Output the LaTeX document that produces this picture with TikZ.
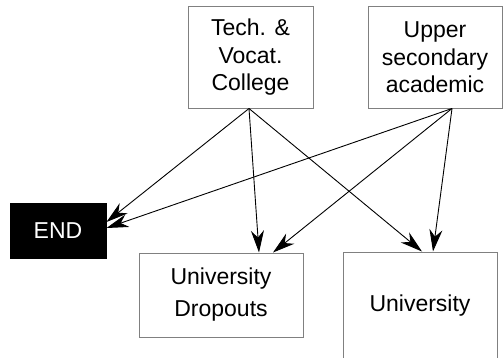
\documentclass[tikz,border=0pt]{standalone}
\usepackage{fontspec}
\setmainfont{Liberation Sans}
\usetikzlibrary{arrows.meta}
\begin{document}
\begin{tikzpicture}[x=1pt,y=1pt,
  box/.style={draw=black!50, line width=1pt, inner sep=0pt, align=center,
    font=\fontsize{23}{27.5}\selectfont},
  flow/.style={draw=black, line width=0.9pt,
    -{Stealth[length=22pt,width=13pt,inset=7pt]}}]
\useasboundingbox (0,0) rectangle (503,357);
\clip (0,0) rectangle (503,357);

% source schools
\node[box, minimum width=125pt, minimum height=101pt] (tech) at (250.5,299.5)
  {Tech. \&\\Vocat.\\College};
\node[box, minimum width=134pt, minimum height=101pt] (upper) at (435,299.5)
  {Upper\\secondary\\academic};

% destinations
\node[box, draw=black, fill=black, text=white, minimum width=96pt, minimum height=55pt]
  (stop) at (58,126.5) {END};
\node[box, font=\fontsize{23}{32}\selectfont, minimum width=164pt, minimum height=84pt]
  (drop) at (221,62) {University\\Dropouts};
\node[box, minimum width=154pt, minimum height=108pt] (univ) at (420,51) {University};

% flows
\draw[flow] ([xshift=-1.5pt]tech.south) -- ([yshift=8.5pt]stop.east);
\draw[flow] ([xshift=-1.5pt]tech.south) -- ([xshift=38pt]drop.north);
\draw[flow] ([xshift=-1.5pt]tech.south) -- ([xshift=2pt]univ.north);
\draw[flow] ([xshift=17pt]upper.south) -- ([yshift=2.5pt]stop.east);
\draw[flow] ([xshift=17pt]upper.south) -- ([xshift=52pt]drop.north);
\draw[flow] ([xshift=17pt]upper.south) -- ([xshift=13pt]univ.north);
\end{tikzpicture}
\end{document}
